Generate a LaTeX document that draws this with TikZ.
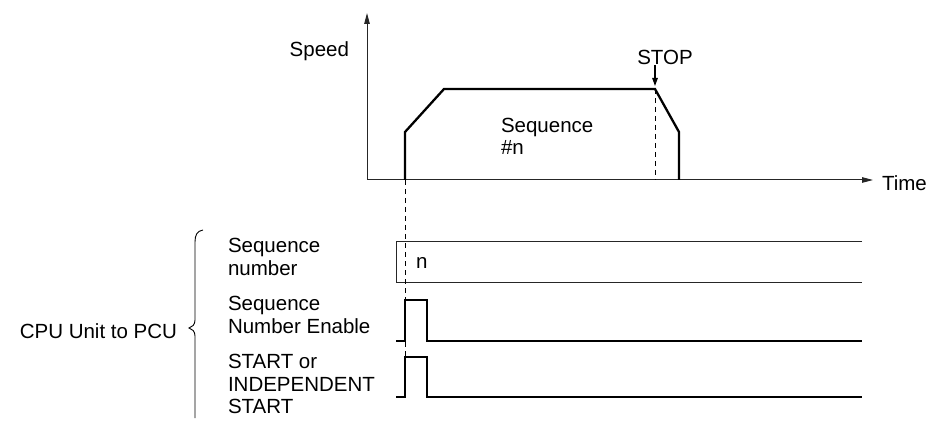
\documentclass[tikz,border=0pt]{standalone}
\usepackage{fontspec}
\setmainfont{Liberation Sans}
\usetikzlibrary{arrows.meta}
\tikzset{
  lbl/.style={inner sep=0pt, outer sep=0pt, font=\fontsize{20.5}{22.5}\selectfont, align=left},
  thin line/.style={line width=1pt, black!85},
  thick line/.style={line width=2.3pt, line join=miter},
  dashline/.style={line width=1pt, dash pattern=on 5pt off 4pt},
  axisarrow/.style={thin line, -{Triangle[length=11pt,width=5.5pt]}},
}
\begin{document}
\begin{tikzpicture}[x=1pt,y=-1pt]
\useasboundingbox (0,0) rectangle (937,422);
% coordinates
\coordinate (O) at (367,180);
\coordinate (Ytop) at (367,13);
\coordinate (Xend) at (873,180);
\coordinate (s0) at (405,180);
\coordinate (s1) at (405,132);
\coordinate (s2) at (444,89);
\coordinate (s3) at (655,89);
\coordinate (s4) at (679,132);
\coordinate (s5) at (679,180);
\coordinate (stopfoot) at (655,180);
% axes
\draw[axisarrow] (O) -- (Ytop);
\draw[axisarrow] (O) -- (Xend);
% labels
\node[lbl, anchor=east] (speed) at (349,51) {Speed};
\node[lbl, anchor=west] (time) at (882,183) {Time};
\node[lbl, anchor=center] (stop) at (665,57) {STOP};
\node[lbl, anchor=north west] (seq) at (501,118) {Sequence\\\#n};
% speed profile
\draw[thick line] (s0) -- (s1) -- (s2) -- (s3) -- (s4) -- (s5);
\draw[dashline] (s3) -- (stopfoot);
\coordinate (stoparrowtop) at (655,65);
\coordinate (stoparrowtip) at (655,86);
\draw[line width=1.2pt, -{Triangle[length=8pt,width=5.5pt]}] (stoparrowtop) -- (stoparrowtip);
% sequence number box
\coordinate (b1) at (862,242);
\coordinate (b2) at (396,242);
\coordinate (b3) at (396,282);
\coordinate (b4) at (862,282);
\draw[thin line] (b1) -- (b2) -- (b3) -- (b4);
\node[lbl, anchor=west] (nlab) at (416,263) {n};
% pulses
\coordinate (p1a) at (396,341);
\coordinate (p1b) at (405,341);
\coordinate (p1c) at (405,300);
\coordinate (p1d) at (427,300);
\coordinate (p1e) at (427,341);
\coordinate (p1f) at (862,341);
\draw[thick line] (p1a) -- (p1b) -- (p1c) -- (p1d) -- (p1e) -- (p1f);
\coordinate (p2a) at (396,397);
\coordinate (p2b) at (405,397);
\coordinate (p2c) at (405,357);
\coordinate (p2d) at (427,357);
\coordinate (p2e) at (427,397);
\coordinate (p2f) at (862,397);
\draw[thick line] (p2a) -- (p2b) -- (p2c) -- (p2d) -- (p2e) -- (p2f);
% start dashed line
\draw[dashline] (s0) -- (p2c);
% left labels
\node[lbl, anchor=west] (l1) at (228,257) {Sequence\\number};
\node[lbl, anchor=west] (l2) at (228,315) {Sequence\\Number Enable};
\node[lbl, anchor=west] (l3) at (228,384) {START or\\INDEPENDENT\\START};
\node[lbl, anchor=east] (cpu) at (177,331) {CPU Unit to PCU};
% brace
\coordinate (br0) at (203,230);
\coordinate (brtip) at (189,328);
\coordinate (brend) at (195,418);
\draw[line width=0.9pt] (br0) .. controls (197,231) and (195,235) .. (195,242) -- (195,320)
  .. controls (195,325) and (192,327) .. (brtip)
  .. controls (192,329) and (195,331) .. (195,336) -- (brend);
\end{tikzpicture}
\end{document}
